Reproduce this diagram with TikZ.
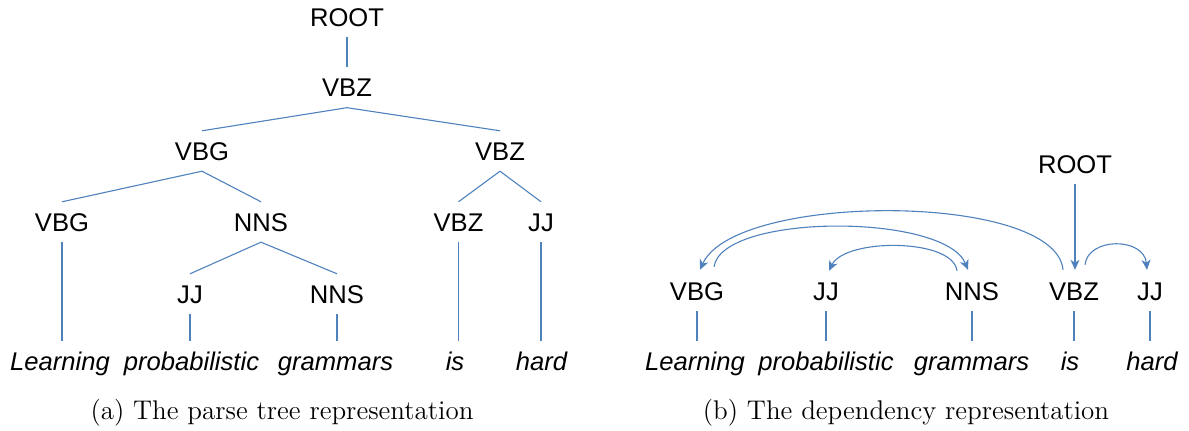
\documentclass[tikz,border=0pt]{standalone}
\usepackage{fontspec}
\setmainfont{Latin Modern Roman}
\newfontfamily\arial{Liberation Sans}
\usetikzlibrary{calc,arrows.meta}
\definecolor{edgeblue}{RGB}{79,129,189}
\begin{document}
\begin{tikzpicture}[x=0.5pt,y=-0.5pt,
  tag/.style={inner xsep=0pt,inner ysep=5.3pt,text height=9.2pt,text depth=0pt,font=\arial\fontsize{12.8}{14}\selectfont},
  word/.style={tag,font=\arial\itshape\fontsize{12.8}{14}\selectfont},
  link/.style={draw=edgeblue,line width=0.55pt},
  dep/.style={link,-{Stealth[length=5pt,width=4.5pt,inset=1.5pt]}},
  captxt/.style={font=\fontsize{13.5}{15}\selectfont,inner sep=0pt}]
\useasboundingbox (0,0) rectangle (1189,431);
% ---------- (a) parse tree ----------
\node[tag] (aroot) at (347,17) {ROOT};
\node[tag] (avbz) at (347,87.5) {VBZ};
\node[tag] (avbg1) at (202,151) {VBG};
\node[tag] (avbz1) at (500,151) {VBZ};
\node[tag] (avbg2) at (62,222) {VBG};
\node[tag] (anns1) at (261,222) {NNS};
\node[tag] (avbz2) at (458.5,222) {VBZ};
\node[tag] (ajj1) at (541,222) {JJ};
\node[tag] (ajj2) at (190,294) {JJ};
\node[tag] (anns2) at (337,294) {NNS};
\node[word] (aw1) at (60,361.5) {Learning};
\node[word] (aw2) at (191.5,361.5) {probabilistic};
\node[word] (aw3) at (335.5,361.5) {grammars};
\node[word] (aw4) at (455,361.5) {is};
\node[word] (aw5) at (541.5,361.5) {hard};
\draw[link] (aroot) -- (avbz);
\draw[link] (avbz.south) -- (avbg1.north);
\draw[link] (avbz.south) -- (avbz1.north);
\draw[link] (avbg1.south) -- (avbg2.north);
\draw[link] (avbg1.south) -- (anns1.north);
\draw[link] (avbz1.south) -- (avbz2.north);
\draw[link] (avbz1.south) -- (ajj1.north);
\draw[link] (anns1.south) -- (ajj2.north);
\draw[link] (anns1.south) -- (anns2.north);
\draw[link] (avbg2.south) -- (avbg2.south |- aw1.north);
\draw[link] (ajj2.south) -- (ajj2.south |- aw2.north);
\draw[link] (anns2.south) -- (anns2.south |- aw3.north);
\draw[link] (avbz2.south) -- (avbz2.south |- aw4.north);
\draw[link] (ajj1.south) -- (ajj1.south |- aw5.north);
\node[captxt] (capa) at (282,413) {(a) The parse tree representation};
% ---------- (b) dependency ----------
\node[tag] (broot) at (1075,164) {ROOT};
\node[tag] (bvbg) at (697,291) {VBG};
\node[tag] (bjj1) at (826,291) {JJ};
\node[tag] (bnns) at (972,291) {NNS};
\node[tag] (bvbz) at (1074,291) {VBZ};
\node[tag] (bjj2) at (1150,291) {JJ};
\node[word] (bw1) at (695,361.5) {Learning};
\node[word] (bw2) at (826,361.5) {probabilistic};
\node[word] (bw3) at (971.5,361.5) {grammars};
\node[word] (bw4) at (1070,361.5) {is};
\node[word] (bw5) at (1152,361.5) {hard};
\foreach \t/\w in {bvbg/bw1,bjj1/bw2,bnns/bw3,bvbz/bw4,bjj2/bw5}
  \draw[link] (\t.south) -- (\t.south |- \w.north);
\draw[dep] (broot.south) -- ($(broot.south |- bvbz.north)+(0,-1)$);
\draw[dep] ($(bvbz.north)+(-11,-1)$) .. controls (1056,192) and (735,192) .. ($(bvbg.north)+(3,-1)$);
\draw[dep] ($(bvbg.north)+(17,-4)$) .. controls (722,213) and (945,213) .. ($(bnns.north)+(-4,-1)$);
\draw[dep] ($(bnns.north)+(-15,0)$) .. controls (953,238) and (845,238) .. ($(bjj1.north)+(3,0)$);
\draw[dep] ($(bvbz.north)+(11,-6)$) .. controls (1088,237) and (1144,237) .. ($(bjj2.north)+(-3,-1)$);
\node[captxt] (capb) at (906,413) {(b) The dependency representation};
\end{tikzpicture}
\end{document}
